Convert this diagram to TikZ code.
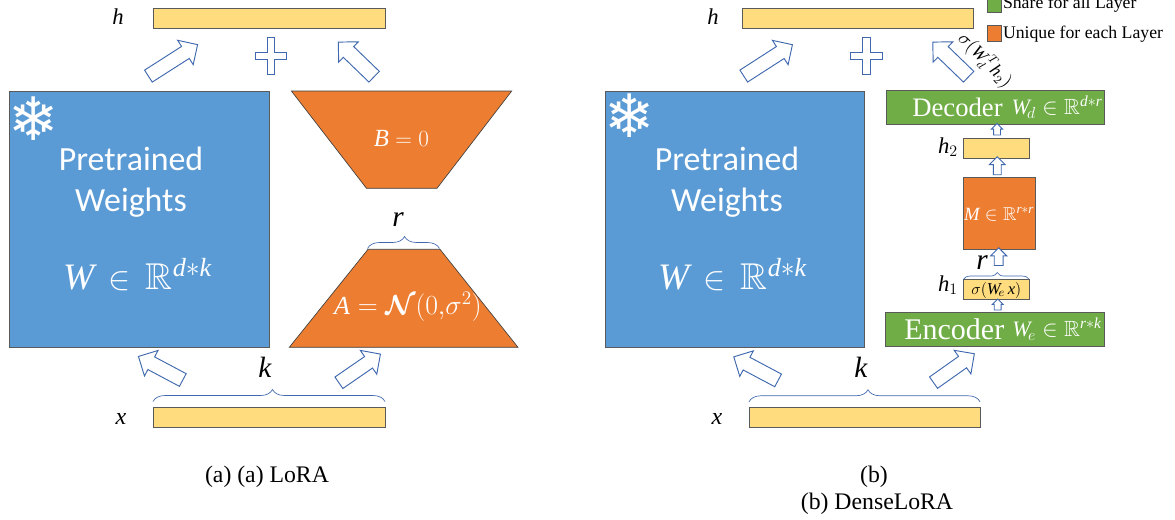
\documentclass[tikz,border=0pt]{standalone}
\usepackage{amsmath,amssymb}
\usepackage{fontspec}
\setmainfont{Liberation Serif}
\newfontfamily\calib{Carlito}
\newfontfamily\dejav{DejaVu Sans}
\usetikzlibrary{shapes.arrows,decorations.pathreplacing}
\definecolor{cblue}{HTML}{5B9BD5}
\definecolor{corange}{HTML}{ED7D31}
\definecolor{cgreen}{HTML}{70AD47}
\definecolor{cyellow}{HTML}{FFDC7E}
\definecolor{cedge}{HTML}{5A5A5A}
\definecolor{carrow}{HTML}{3F68AE}
\def\px{*0.75pt}
\newcommand{\fs}[1]{\fontsize{#1}{#1}\selectfont}
\newcommand{\mi}[1]{\text{\itshape #1}}
\tikzset{
  rectbox/.style n args={3}{draw=cedge,line width=0.7pt,fill=#1,inner sep=0,outer sep=0,minimum width=#2\px,minimum height=#3\px},
  barrow/.style n args={3}{single arrow,draw=carrow,line width=0.7pt,fill=white,inner sep=0,outer sep=0,
    text height={#3\px},text depth=0pt,
    minimum height=#1\px,minimum width=#2\px,single arrow head extend={(#2-#3)/2\px}},
  lab/.style={inner sep=0,outer sep=0,text=black},
  wlab/.style={inner sep=0,outer sep=0,text=white},
  trap/.style={draw=black!75,line width=0.5pt,fill=corange},
  plusshape/.style={draw=carrow,line width=0.7pt,fill=white},
  bracel/.style={draw=carrow,line width=0.5pt,decorate,decoration={brace,amplitude=#1\px,aspect=0.515}},
  flake/.style={inner sep=0,outer sep=0,text=white,font=\dejav\fs{45}}
}
\begin{document}
\begin{tikzpicture}[x=0.75pt,y=-0.75pt]
\useasboundingbox (0,0) rectangle (1175,519);
\clip (0,0) rectangle (1175,519);

% ---------- LoRA ----------
\node[rectbox={cyellow}{232}{20}] (hL) at (269,18) {};
\node[lab,font=\itshape\fs{17}] (hLt) at (118,17) {h};
\node[barrow={58.4}{28}{13.3},rotate=32.6] (aL1) at (170,62.3) {};
\node[barrow={49.8}{27.4}{14},rotate=136] (aL2) at (358.9,62) {};
\path[plusshape] (255.4,52.7) -- (267,52.7) -- (267,37.3) -- (274.7,37.3) -- (274.7,52.7) -- (286.4,52.7)
  -- (286.4,59.7) -- (274.7,59.7) -- (274.7,74.7) -- (267,74.7) -- (267,59.7) -- (255.4,59.7) -- cycle;
\node[rectbox={cblue}{260}{256}] (wL) at (139,219) {};
\node[flake] (sL) at (34,119) {❄};
\node[wlab,font=\calib\fs{25.4},anchor=base] (pL) at (131,170.7) {Pretrained};
\node[wlab,font=\calib\fs{25.4},anchor=base] (gL) at (131,211.7) {Weights};
\node[wlab,font=\fs{28},anchor=base] (mL) at (137.5,289) {$\mi{W}\,\in\,\mathbb{R}^{\mi{d}{*}\mi{k}}$};
\path[trap] (291.4,91) -- (511.7,91) -- (437,188.3) -- (366.5,188.3) -- cycle;
\node[wlab,font=\fs{18.5}] (bL) at (401.5,138) {$\mi{B}=0$};
\path[trap] (368,249.3) -- (440,249.3) -- (518,347.3) -- (289.3,347.3) -- cycle;
\node[wlab,font=\fs{19.5}] (nL) at (408,307) {$\mi{A}=\boldsymbol{\mathcal{N}}(0{,}\sigma^{2})$};
\coordinate (rA) at (367.5,248.5);
\coordinate (rB) at (439.5,248.5);
\draw[bracel=12] (rA) -- (rB);
\node[lab,font=\itshape\fs{22}] (rL) at (398,220) {r};
\node[lab,font=\itshape\fs{22}] (kL) at (265,367) {k};
\node[rectbox={cyellow}{232}{20}] (xL) at (269,417.5) {};
\draw[bracel=12] ([yshift=4.5pt]xL.north west) -- ([yshift=4.5pt]xL.north east);
\node[lab,font=\itshape\fs{18}] (xLt) at (121,419) {x};
\node[barrow={50.2}{28}{13.4},rotate=152] (aL3) at (163.8,369.9) {};
\node[barrow={50.5}{28}{13},rotate=34.6] (aL4) at (356.8,370.4) {};
\node[lab,font=\fs{17.8}] (capL) at (267,477) {(a) (a) LoRA};

% ---------- DenseLoRA ----------
\node[rectbox={cyellow}{231}{20}] (hR) at (857.5,18) {};
\node[lab,font=\itshape\fs{17}] (hRt) at (713,17) {h};
\node[barrow={57.9}{28}{13.3},rotate=32.8] (aR1) at (765.1,62.3) {};
\node[barrow={49.8}{27.4}{14},rotate=136] (aR2) at (953.4,62) {};
\path[plusshape] (850.4,52.7) -- (862.7,52.7) -- (862.7,37.3) -- (870,37.3) -- (870,52.7) -- (882,52.7)
  -- (882,59.7) -- (870,59.7) -- (870,74.7) -- (862.7,74.7) -- (862.7,59.7) -- (850.4,59.7) -- cycle;
\node[rectbox={cblue}{259}{256}] (wR) at (734.5,219) {};
\node[flake] (sR) at (630,116) {❄};
\node[wlab,font=\calib\fs{25.4},anchor=base] (pR) at (727,170.7) {Pretrained};
\node[wlab,font=\calib\fs{25.4},anchor=base] (gR) at (727,211.7) {Weights};
\node[wlab,font=\fs{28},anchor=base] (mR) at (732.5,289) {$\mi{W}\,\in\,\mathbb{R}^{\mi{d}{*}\mi{k}}$};
\node[rectbox={cgreen}{218}{34}] (dec) at (995.3,107) {};
\node[wlab,font=\fs{20}] (decT) at (957.5,107) {Decoder};
\node[wlab,font=\fs{16.5}] (decM) at (1057,107) {$\mi{W}_{\!d}\in\mathbb{R}^{\mi{d}{*}\mi{r}}$};
\node[rectbox={cyellow}{66}{20}] (h2) at (996.3,148.3) {};
\node[lab,font=\fs{17}] (h2t) at (948,147) {$\mi{h}_2$};
\node[rectbox={corange}{72}{72}] (M) at (999,213.3) {};
\node[wlab,font=\fs{14}] (Mt) at (999,214) {$\mi{M}\in\mathbb{R}^{\mi{r}{*}\mi{r}}$};
\node[rectbox={cyellow}{66}{19.5}] (h1) at (996.3,289.7) {};
\node[lab,font=\fs{12.5}] (h1m) at (996.3,290) {$\sigma(\mi{W}_{\!e}\,\mi{x})$};
\node[lab,font=\fs{17}] (h1t) at (948,285) {$\mi{h}_1$};
\draw[bracel=7] ([yshift=0.3pt]h1.north west) -- ([yshift=0.3pt]h1.north east);
\node[lab,font=\itshape\fs{22}] (rR) at (982,263) {r};
\node[rectbox={cgreen}{219}{33.5}] (enc) at (994.8,329.7) {};
\node[wlab,font=\fs{22.5}] (encT) at (954.3,329.7) {Encoder};
\node[wlab,font=\fs{16.5}] (encM) at (1057,329) {$\mi{W}_{\!e}\in\mathbb{R}^{\mi{r}{*}\mi{k}}$};
\node[barrow={11.4}{10}{6},rotate=90] (a1) at (997,131) {};
\node[barrow={18}{14.7}{7},rotate=90] (a2) at (997.3,167.7) {};
\node[barrow={17.7}{15}{8},rotate=90] (a3) at (998.7,258.9) {};
\node[barrow={11}{10}{6},rotate=90] (a4) at (997.7,306.2) {};
\node[lab,font=\fs{13.5},rotate=-46] (sig) at (985,60) {$\sigma(\mi{W}_{\!d}^{\,T}\mi{h}_2)$};
\node[rectbox={cyellow}{231}{19.5}] (xR) at (864.5,417.5) {};
\node[lab,font=\itshape\fs{18}] (xRt) at (717,419) {x};
\draw[bracel=12] ([yshift=4.5pt]xR.north west) -- ([yshift=4.5pt]xR.north east);
\node[lab,font=\itshape\fs{22}] (kR) at (861,367) {k};
\node[barrow={50.2}{28}{13.4},rotate=152] (aR3) at (759.1,370.3) {};
\node[barrow={50}{28}{13},rotate=35.3] (aR4) at (951.1,370.2) {};
\node[lab,font=\fs{17.8}] (capR1) at (874,477) {(b)};
\node[lab,font=\fs{17.8}] (capR2) at (877,504) {(b) DenseLoRA};

% ---------- legend ----------
\node[rectbox={cgreen}{14.5}{15}] (lg1) at (994.5,4.5) {};
\node[lab,font=\fs{13.3},anchor=west] (lg1t) at (1003,4) {Share for all  Layer};
\node[rectbox={corange}{14.5}{15.7}] (lg2) at (994.5,33.8) {};
\node[lab,font=\fs{13.3},anchor=west] (lg2t) at (1003,34) {Unique for each Layer};
\end{tikzpicture}
\end{document}
